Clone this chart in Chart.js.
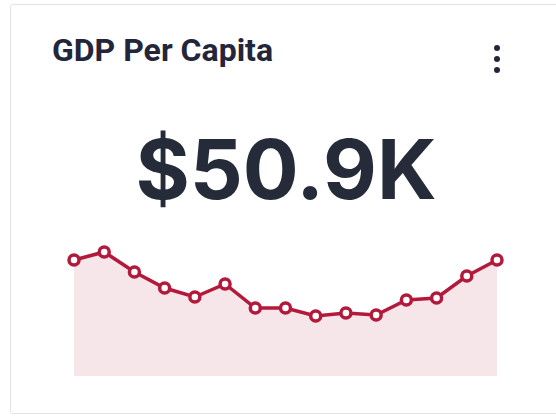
<!DOCTYPE html>
<html>
<head>
<meta charset="utf-8">
<script src="https://cdn.jsdelivr.net/npm/chart.js@4"></script>
<style>
  body { margin: 0; background: #fff; width: 556px; height: 417px; overflow: hidden; position: relative; }
  .card { position: absolute; left: 10px; top: 4px; width: 580px; height: 410px; border: 1px solid #e3e3e3; box-sizing: border-box; border-radius: 3px; }
  .title { position: absolute; left: 52px; top: 34px; font-family: Roboto, sans-serif; font-weight: 700; font-size: 32px; line-height: 1; color: #23263a; }
  .menu { position: absolute; left: 494px; top: 45px; width: 6px; }
  .menu span { display: block; width: 6px; height: 6px; border-radius: 50%; background: #23263a; margin-bottom: 5px; }
  .big { position: absolute; left: 0; width: 572px; top: 128px; text-align: center; font-family: Inter, sans-serif; font-weight: 700; font-size: 83px; line-height: 1; color: #262b3a; }
  #spark { position: absolute; left: 60px; top: 230px; }
</style>
</head>
<body>
<div class="card"></div>
<div class="title">GDP Per Capita</div>
<div class="menu"><span></span><span></span><span></span></div>
<div class="big">$50.9K</div>
<canvas id="spark" width="450" height="160"></canvas>
<script>
// GDP per capita, thousands of dollars
const periods = ['P1', 'P2', 'P3', 'P4', 'P5', 'P6', 'P7', 'P8', 'P9', 'P10', 'P11', 'P12', 'P13', 'P14', 'P15'];
const gdpValues = [50.9, 51.3, 50.3, 49.5, 49.05, 49.7, 48.5, 48.5, 48.1, 48.25, 48.15, 48.9, 49.0, 50.1, 50.9];

const ctx = document.getElementById('spark').getContext('2d');
const sparkChart = new Chart(ctx, {
    type: 'line',
    data: {
        labels: periods,
        datasets: [{
            data: gdpValues,
            borderColor: '#b3193b',
            backgroundColor: '#f6e6e9',
            borderWidth: 3.5,
            fill: 'start',
            tension: 0,
            pointRadius: 5,
            pointBorderWidth: 3.5,
            pointBackgroundColor: '#fff',
            pointBorderColor: '#b3193b',
            clip: false
        }]
    },
    options: {
        responsive: false,
        animation: false,
        layout: { padding: { left: 14, right: 13, top: 10, bottom: 14 } },
        scales: {
            x: { display: false },
            y: { display: false, min: 45.1, max: 51.9 }
        },
        plugins: {
            legend: { display: false },
            tooltip: { enabled: false }
        }
    }
});
</script>
</body>
</html>
